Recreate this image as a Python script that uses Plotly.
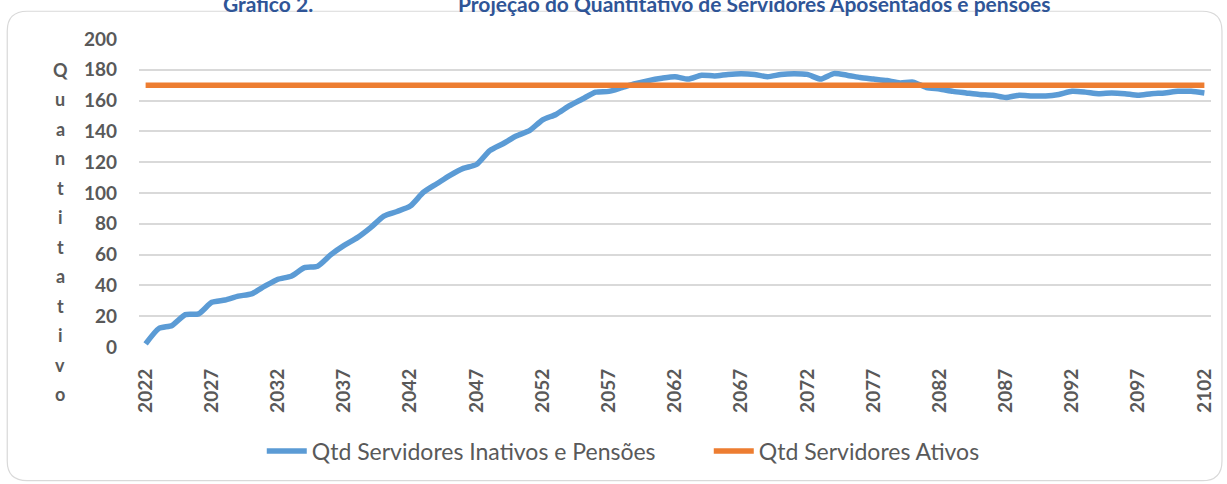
import plotly.graph_objects as go

years = list(range(2022, 2103))
inativos = [2, 12, 14, 21, 21.5, 29, 30.5, 33, 34.5, 39.5,
            44, 46, 51.5, 52.5, 60, 66, 71, 77.5, 85, 88,
            91.5, 100.5, 106, 111.5, 116, 118.5, 127.5, 132, 137, 140.5,
            147.5, 151, 156.5, 161, 165.5, 166, 168.5, 171, 173, 174.5,
            175.5, 174, 176.5, 176, 177, 177.5, 177, 175.5, 177, 177.5,
            177, 174, 177.5, 176.5, 175, 174, 173, 171.5, 172, 168.5,
            167.5, 166, 165, 164, 163.5, 162, 163.5, 163, 163, 164,
            166, 165.5, 164.5, 165, 164.5, 163.5, 164.5, 165, 166, 166,
            165]
ativos = [170] * len(years)
y_ticks = [0, 20, 40, 60, 80, 100, 120, 140, 160, 180, 200]
x_ticks = list(range(2022, 2103, 5))
ylabel = "Quantitativo"

W, H = 1227, 484
L, R, T, B = 139, 1213, 39, 350  # plot area in px

def px(x):
    return (x - L) / (R - L)

def py(y):
    return (B - y) / (B - T)

FONT = "Lato"
GRAY = "#595959"

fig = go.Figure()
fig.add_trace(go.Scatter(x=years, y=inativos, mode="lines",
                         name="Qtd Servidores Inativos e Pensões",
                         line=dict(color="#5B9BD5", width=5.5, shape="spline", smoothing=0.6)))
fig.add_trace(go.Scatter(x=years, y=ativos, mode="lines",
                         name="Qtd Servidores Ativos",
                         line=dict(color="#ED7D31", width=5.5)))

# rounded frame
x0, x1, y0, y1 = px(7), px(1224), py(11), py(485)
rx, ry = 20 / (R - L), 20 / (B - T)
path = (f"M {x0+rx},{y0} L {x1-rx},{y0} Q {x1},{y0} {x1},{y0-ry} "
        f"L {x1},{y1+ry} Q {x1},{y1} {x1-rx},{y1} "
        f"L {x0+rx},{y1} Q {x0},{y1} {x0},{y1+ry} "
        f"L {x0},{y0-ry} Q {x0},{y0} {x0+rx},{y0} Z")
fig.add_shape(type="path", path=path, xref="paper", yref="paper",
              line=dict(color="#D9D9D9", width=1.2), layer="below")

annotations = []
for i, ch in enumerate(ylabel):
    annotations.append(dict(text=ch, x=px(60), y=py(70 + i * 29.8), xref="paper", yref="paper",
                            showarrow=False, xanchor="center", yanchor="middle",
                            font=dict(family=FONT, size=18, color=GRAY, weight="bold")))
annotations.append(dict(text="Gráfico 2.", x=px(268), y=py(3), xref="paper", yref="paper",
                        showarrow=False, xanchor="center", yanchor="middle",
                        font=dict(family=FONT, size=21, color="#2F5597", weight="bold")))
annotations.append(dict(text="Projeção do Quantitativo de Servidores Aposentados e pensões",
                        x=px(755), y=py(3), xref="paper", yref="paper",
                        showarrow=False, xanchor="center", yanchor="middle",
                        font=dict(family=FONT, size=21, color="#2F5597", weight="bold")))

fig.update_layout(
    width=W, height=H,
    margin=dict(l=L, r=W - R, t=T, b=H - B, pad=0),
    paper_bgcolor="white", plot_bgcolor="white",
    showlegend=True,
    legend=dict(orientation="h", x=px(262), xanchor="left", y=py(455), yanchor="middle",
                font=dict(family=FONT, size=23, color=GRAY), itemwidth=40,
                entrywidth=392, entrywidthmode="pixels",
                bgcolor="rgba(0,0,0,0)"),
    annotations=annotations,
    xaxis=dict(range=[2021.5, 2102.5], tickvals=x_ticks, ticktext=[str(v) for v in x_ticks],
               tickangle=-90, showgrid=False, zeroline=False, showline=False,
               ticks="", ticklabelstandoff=17,
               tickfont=dict(family=FONT, size=19, color=GRAY, weight="bold")),
    yaxis=dict(range=[0, 200], tickvals=y_ticks, showgrid=True, gridcolor="#D9D9D9", gridwidth=1.5,
               zeroline=False, showline=False, ticks="", ticklabelstandoff=21,
               tickfont=dict(family=FONT, size=19, color=GRAY, weight="bold")),
)

fig.write_html("out.html", config={"displayModeBar": False},
               post_script="document.body.style.margin='0';document.body.style.overflow='hidden';")
